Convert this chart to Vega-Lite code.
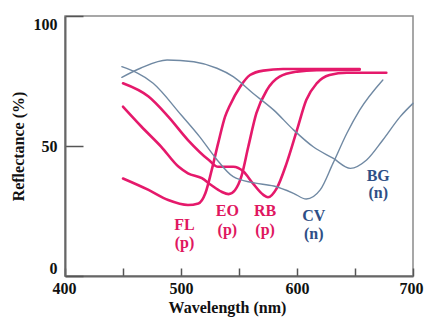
{
  "$schema": "https://vega.github.io/schema/vega-lite/v6.json",
  "width": 348,
  "height": 260,
  "autosize": {"type": "none"},
  "padding": {"left": 65, "top": 16, "right": 11, "bottom": 45},
  "background": "white",
  "config": {
    "view": {"stroke": "#8a8a8a", "strokeWidth": 1.5},
    "font": "Liberation Serif",
    "axis": {
      "labelFont": "Liberation Serif", "labelFontWeight": "bold", "labelFontSize": 16, "labelColor": "#111",
      "titleFont": "Liberation Serif", "titleFontWeight": "bold", "titleFontSize": 16, "titleColor": "#111",
      "grid": false, "domainColor": "#666", "domainWidth": 2, "tickColor": "#555", "tickWidth": 1.5
    }
  },
  "datasets": {
    "curves": [
      {"dye":"FL","type":"p","wl":450,"r":37.5},{"dye":"FL","type":"p","wl":472,"r":33.1},{"dye":"FL","type":"p","wl":489,"r":29.2},{"dye":"FL","type":"p","wl":506,"r":27.3},{"dye":"FL","type":"p","wl":515,"r":27.9},{"dye":"FL","type":"p","wl":521,"r":31.8},{"dye":"FL","type":"p","wl":526.5,"r":40.8},{"dye":"FL","type":"p","wl":532,"r":51},{"dye":"FL","type":"p","wl":538,"r":61.3},{"dye":"FL","type":"p","wl":542,"r":65.5},{"dye":"FL","type":"p","wl":551,"r":72.8},{"dye":"FL","type":"p","wl":559.5,"r":77.3},{"dye":"FL","type":"p","wl":571,"r":79},{"dye":"FL","type":"p","wl":588,"r":79.6},{"dye":"FL","type":"p","wl":654,"r":79.6},
      {"dye":"EO","type":"p","wl":450,"r":65.1},{"dye":"EO","type":"p","wl":466,"r":57.4},{"dye":"EO","type":"p","wl":483,"r":49.7},{"dye":"EO","type":"p","wl":498,"r":42},{"dye":"EO","type":"p","wl":506,"r":39.5},{"dye":"EO","type":"p","wl":518,"r":37.6},{"dye":"EO","type":"p","wl":526,"r":35},{"dye":"EO","type":"p","wl":535,"r":32.4},{"dye":"EO","type":"p","wl":541,"r":31.5},{"dye":"EO","type":"p","wl":546.5,"r":33},{"dye":"EO","type":"p","wl":552,"r":38.2},{"dye":"EO","type":"p","wl":558,"r":49.7},{"dye":"EO","type":"p","wl":565,"r":62.6},{"dye":"EO","type":"p","wl":574,"r":71.5},{"dye":"EO","type":"p","wl":585,"r":76.7},{"dye":"EO","type":"p","wl":600,"r":78.6},{"dye":"EO","type":"p","wl":617,"r":79.2},{"dye":"EO","type":"p","wl":654,"r":79.3},
      {"dye":"RB","type":"p","wl":450,"r":74.1},{"dye":"RB","type":"p","wl":472,"r":69},{"dye":"RB","type":"p","wl":489,"r":61.3},{"dye":"RB","type":"p","wl":506,"r":52.3},{"dye":"RB","type":"p","wl":524,"r":44.6},{"dye":"RB","type":"p","wl":532,"r":42},{"dye":"RB","type":"p","wl":545,"r":42},{"dye":"RB","type":"p","wl":554,"r":40.1},{"dye":"RB","type":"p","wl":562,"r":35.6},{"dye":"RB","type":"p","wl":571,"r":31.2},{"dye":"RB","type":"p","wl":575,"r":30.3},{"dye":"RB","type":"p","wl":582.5,"r":33.7},{"dye":"RB","type":"p","wl":591,"r":43.3},{"dye":"RB","type":"p","wl":600,"r":56.2},{"dye":"RB","type":"p","wl":608,"r":67.7},{"dye":"RB","type":"p","wl":617,"r":74.1},{"dye":"RB","type":"p","wl":628,"r":77.3},{"dye":"RB","type":"p","wl":643,"r":78.2},{"dye":"RB","type":"p","wl":677,"r":78.2},
      {"dye":"CV","type":"n","wl":449,"r":80.5},{"dye":"CV","type":"n","wl":476,"r":74.1},{"dye":"CV","type":"n","wl":500,"r":62},{"dye":"CV","type":"n","wl":516,"r":53.6},{"dye":"CV","type":"n","wl":530,"r":45.3},{"dye":"CV","type":"n","wl":545,"r":38.2},{"dye":"CV","type":"n","wl":562,"r":35.9},{"dye":"CV","type":"n","wl":580,"r":34.6},{"dye":"CV","type":"n","wl":597,"r":31.8},{"dye":"CV","type":"n","wl":608,"r":29.6},{"dye":"CV","type":"n","wl":620,"r":33.1},{"dye":"CV","type":"n","wl":631,"r":43.3},{"dye":"CV","type":"n","wl":643,"r":54.9},{"dye":"CV","type":"n","wl":654,"r":63.8},{"dye":"CV","type":"n","wl":674,"r":75.4},
      {"dye":"BG","type":"n","wl":449,"r":76.4},{"dye":"BG","type":"n","wl":465,"r":79.9},{"dye":"BG","type":"n","wl":488,"r":83.1},{"dye":"BG","type":"n","wl":511,"r":82.4},{"dye":"BG","type":"n","wl":531,"r":79.9},{"dye":"BG","type":"n","wl":545,"r":76.7},{"dye":"BG","type":"n","wl":562,"r":70.3},{"dye":"BG","type":"n","wl":580,"r":63.8},{"dye":"BG","type":"n","wl":597,"r":56.2},{"dye":"BG","type":"n","wl":614,"r":49.7},{"dye":"BG","type":"n","wl":631,"r":45.3},{"dye":"BG","type":"n","wl":646,"r":41.4},{"dye":"BG","type":"n","wl":660,"r":44.6},{"dye":"BG","type":"n","wl":674,"r":52.3},{"dye":"BG","type":"n","wl":689,"r":61.3},{"dye":"BG","type":"n","wl":700,"r":66.4}
    ],
    "labels": [
      {"dye":"FL","type":"p","wl":503,"r":19.6,"t":"FL"},{"dye":"FL","type":"p","wl":503,"r":12.7,"t":"(p)"},
      {"dye":"EO","type":"p","wl":540,"r":25,"t":"EO"},{"dye":"EO","type":"p","wl":540,"r":17.7,"t":"(p)"},
      {"dye":"RB","type":"p","wl":572.5,"r":25,"t":"RB"},{"dye":"RB","type":"p","wl":572.5,"r":17.7,"t":"(p)"},
      {"dye":"CV","type":"n","wl":614.5,"r":23,"t":"CV"},{"dye":"CV","type":"n","wl":614.5,"r":16.2,"t":"(n)"},
      {"dye":"BG","type":"n","wl":670,"r":38.5,"t":"BG"},{"dye":"BG","type":"n","wl":670,"r":31.9,"t":"(n)"}
    ]
  },
  "layer": [
    {
      "data": {"name": "curves"},
      "mark": {"type": "line", "interpolate": "monotone", "strokeCap": "round", "strokeJoin": "round"},
      "encoding": {
        "x": {"field": "wl", "type": "quantitative", "scale": {"domain": [400, 700], "nice": false, "zero": false},
              "axis": {"title": "Wavelength (nm)", "values": [400,450,500,550,600,650,700],
                       "labelExpr": "datum.value % 100 == 0 ? datum.label : ''",
                       "labelOffset": {"expr": "datum.value == 700 ? -2 : (datum.value == 400 ? -1 : 0)"},
                       "tickSize": -8, "labelPadding": 12, "labelFlush": false, "labelOverlap": false,
                       "titleX": 162, "titleY": 31, "titleBaseline": "middle"}},
        "y": {"field": "r", "type": "quantitative", "scale": {"domain": [0, 100], "nice": false},
              "axis": {"title": "Reflectance (%)", "values": [0, 50, 100], "tickSize": -18, "labelPadding": 26,
                       "labelFlush": true, "titleX": -47, "titleY": 130, "titleBaseline": "middle", "titleAlign": "center"}},
        "detail": {"field": "dye"},
        "color": {"field": "type", "type": "nominal", "scale": {"domain": ["p", "n"], "range": ["#e5196b", "#7089a3"]}, "legend": null},
        "strokeWidth": {"field": "type", "type": "nominal", "scale": {"domain": ["p", "n"], "range": [2.6, 1.4]}, "legend": null}
      }
    },
    {
      "data": {"name": "labels"},
      "mark": {"type": "text", "fontWeight": "bold", "fontSize": 16, "font": "Liberation Serif", "baseline": "middle", "align": "center"},
      "encoding": {
        "x": {"field": "wl", "type": "quantitative"},
        "y": {"field": "r", "type": "quantitative"},
        "text": {"field": "t"},
        "color": {"field": "type", "type": "nominal", "scale": {"domain": ["p", "n"], "range": ["#e0175f", "#2f4f86"]}, "legend": null}
      }
    }
  ],
  "resolve": {"scale": {"color": "independent"}}
}
